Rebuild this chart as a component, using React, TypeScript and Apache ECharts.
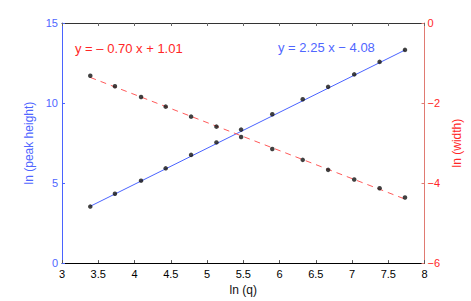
import React, { useEffect, useRef } from "react";
import * as echarts from "echarts";

const lnQ = [3.39, 3.73, 4.09, 4.43, 4.78, 5.13, 5.47, 5.90, 6.32, 6.67, 7.03, 7.38, 7.73];
const lnPeakHeight = [3.53, 4.33, 5.15, 5.92, 6.76, 7.54, 8.34, 9.30, 10.24, 11.01, 11.79, 12.57, 13.32];
const lnWidth = [-1.32, -1.58, -1.85, -2.09, -2.34, -2.59, -2.85, -3.15, -3.42, -3.67, -3.91, -4.13, -4.36];
const fitX = [3.39, 7.73];
const fitHeight = [3.55, 13.31];
const fitWidth = [-1.36, -4.40];
const heightEquation = "y = 2.25 x \u2212 4.08";
const widthEquation = "y = \u2013 0.70 x + 1.01";

const BLUE = "#4a63ff";
const BLUE_TEXT = "#4f66ff";
const RED = "#ff2626";
const RED_LINE = "#ff5a5a";
const RED_AXIS = "#e07a72";
const FONT = "Liberation Sans, Arial, Helvetica, sans-serif";

export default function App() {
  const ref = useRef<HTMLDivElement>(null);
  useEffect(() => {
    if (!ref.current) return;
    document.body.style.margin = "0";
    document.body.style.overflow = "hidden";
    const chart = echarts.init(ref.current, undefined, { renderer: "svg" });
    const minus = (v: number) => String(v).replace("-", "\u2212");
    chart.setOption({
      animation: false,
      backgroundColor: "#ffffff",
      textStyle: { fontFamily: FONT },
      grid: { left: 62, right: 44, top: 23, bottom: 34 },
      xAxis: [
        {
          type: "value",
          min: 3,
          max: 8,
          interval: 0.5,
          position: "bottom",
          name: "ln (q)",
          nameLocation: "middle",
          nameGap: 17,
          nameTextStyle: { color: "#111", fontSize: 12, fontFamily: FONT },
          axisLine: { show: true, lineStyle: { color: "#000", width: 1 } },
          axisTick: { show: true, inside: true, length: 3, lineStyle: { color: "#555" } },
          axisLabel: { color: "#000", fontSize: 11, margin: 5, fontFamily: FONT },
          splitLine: { show: false },
        },
        {
          type: "value",
          min: 3,
          max: 8,
          interval: 0.5,
          position: "top",
          axisLine: { show: true, lineStyle: { color: "#333", width: 1 } },
          axisTick: { show: true, inside: true, length: 3, lineStyle: { color: "#666" } },
          axisLabel: { show: false },
          splitLine: { show: false },
        },
      ],
      yAxis: [
        {
          type: "value",
          min: 0,
          max: 15,
          interval: 5,
          position: "left",
          name: "ln (peak height)",
          nameLocation: "middle",
          nameRotate: 90,
          nameGap: 26,
          nameTextStyle: { color: BLUE_TEXT, fontSize: 12, fontFamily: FONT },
          axisLine: { show: true, lineStyle: { color: BLUE, width: 1 } },
          axisTick: { show: true, inside: true, length: 3, lineStyle: { color: BLUE } },
          axisLabel: { color: BLUE_TEXT, fontSize: 11, margin: 4, fontFamily: FONT },
          splitLine: { show: false },
        },
        {
          type: "value",
          min: -6,
          max: 0,
          interval: 2,
          position: "right",
          name: "ln (width)",
          nameLocation: "middle",
          nameRotate: 90,
          nameGap: 19,
          nameTextStyle: { color: RED, fontSize: 12, fontFamily: FONT },
          axisLine: { show: true, lineStyle: { color: RED_AXIS, width: 1 } },
          axisTick: { show: true, inside: true, length: 3, lineStyle: { color: RED_AXIS } },
          axisLabel: { color: RED, fontSize: 11, margin: 3, fontFamily: FONT, formatter: minus },
          splitLine: { show: false },
        },
      ],
      series: [
        {
          type: "line",
          xAxisIndex: 0,
          yAxisIndex: 0,
          data: fitX.map((x, i) => [x, fitHeight[i]]),
          showSymbol: false,
          lineStyle: { color: BLUE, width: 1 },
          z: 2,
        },
        {
          type: "line",
          xAxisIndex: 0,
          yAxisIndex: 1,
          data: fitX.map((x, i) => [x, fitWidth[i]]),
          showSymbol: false,
          lineStyle: { color: RED_LINE, width: 1, type: [6, 5] },
          z: 2,
        },
        {
          type: "scatter",
          xAxisIndex: 0,
          yAxisIndex: 0,
          data: lnQ.map((x, i) => [x, lnPeakHeight[i]]),
          symbol: "circle",
          symbolSize: 4.5,
          itemStyle: { color: "#111" },
          z: 3,
        },
        {
          type: "scatter",
          xAxisIndex: 0,
          yAxisIndex: 1,
          data: lnQ.map((x, i) => [x, lnWidth[i]]),
          symbol: "circle",
          symbolSize: 4.5,
          itemStyle: { color: "#111" },
          z: 3,
        },
      ],
      graphic: [
        {
          type: "text",
          left: 75,
          top: 42,
          style: { text: widthEquation, fill: RED, font: `13px ${FONT}` },
        },
        {
          type: "text",
          left: 278,
          top: 41,
          style: { text: heightEquation, fill: BLUE_TEXT, font: `13px ${FONT}` },
        },
      ],
    });
    return () => chart.dispose();
  }, []);
  return (
    <div
      ref={ref}
      style={{ position: "fixed", left: 0, top: 0, width: 471, height: 301 }}
    />
  );
}
